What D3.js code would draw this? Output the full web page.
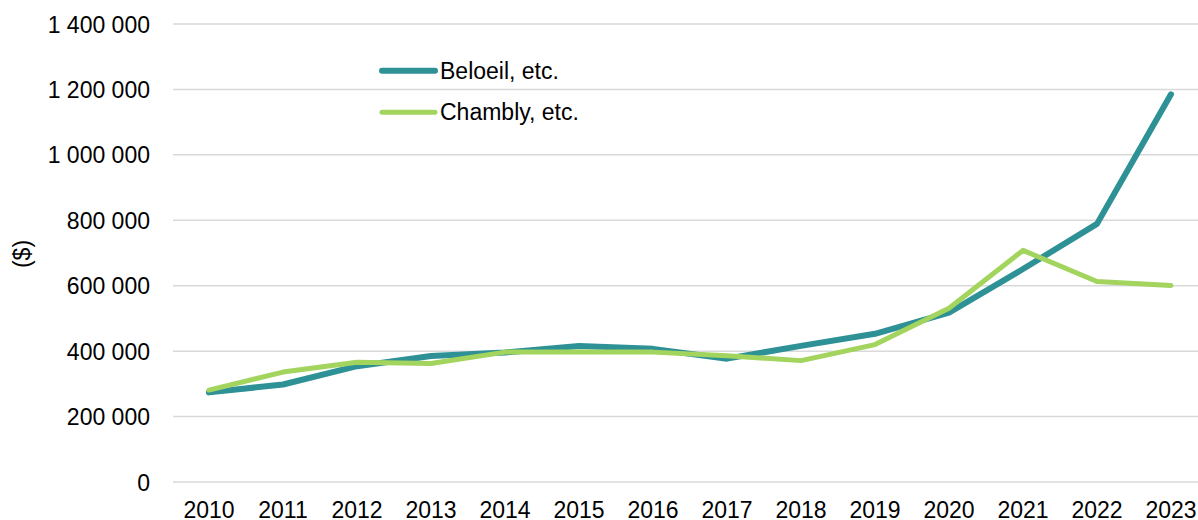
<!DOCTYPE html>
<html><head><meta charset="utf-8">
<script src="https://cdn.jsdelivr.net/npm/d3@7"></script>
<style>html,body{margin:0;padding:0;background:#fff;overflow:hidden}</style>
</head><body>
<svg id="c" width="1198" height="520"></svg>
<script>
const years = ["2010","2011","2012","2013","2014","2015","2016","2017","2018","2019","2020","2021","2022","2023"];
const beloeil = [274000, 298000, 354000, 385000, 396000, 416000, 407000, 377000, 416000, 453000, 518000, 651000, 789000, 1185000];
const chambly = [281000, 336000, 366000, 362000, 397000, 397000, 397000, 386000, 371000, 420000, 531000, 708000, 613000, 601000];
const yTicks = [0, 200000, 400000, 600000, 800000, 1000000, 1200000, 1400000];
const seriesNames = ["Beloeil, etc.", "Chambly, etc."];
const colors = ["#2E9196", "#A2D45E"];

const svg = d3.select("#c");
const font = "'Liberation Sans', Arial, sans-serif";
const x = d3.scaleBand().domain(years).range([172, 1208]);
const y = d3.scaleLinear().domain([0, 1400000]).range([482, 24]);
const fmt = v => d3.format(",")(v).replace(/,/g, " ");

// gridlines
svg.append("g").selectAll("line").data(yTicks).join("line")
  .attr("x1", 173).attr("x2", 1209)
  .attr("y1", d => y(d)).attr("y2", d => y(d))
  .attr("stroke", "#d9d9d9").attr("stroke-width", 1.5);

// y axis labels
const yAxis = d3.axisLeft(y).tickValues(yTicks).tickFormat(fmt).tickSize(0).tickPadding(0);
const gy = svg.append("g").attr("transform", "translate(150,0)").call(yAxis);
gy.select(".domain").remove();
gy.selectAll("text").attr("font-family", font).attr("font-size", 23).attr("fill", "#000").attr("dy", "0.35em");

// x axis labels
const xAxis = d3.axisBottom(x).tickSize(0).tickPadding(0);
const gx = svg.append("g").attr("transform", "translate(0,500)").call(xAxis);
gx.select(".domain").remove();
gx.selectAll("text").attr("font-family", font).attr("font-size", 23).attr("fill", "#000").attr("dy", "0.8em");

// y title
svg.append("text").attr("transform", "translate(30,254) rotate(-90)")
  .attr("text-anchor", "middle").attr("font-family", font).attr("font-size", 23).text("($)");

// lines
const line = d3.line().x((d, i) => x(years[i]) + x.bandwidth() / 2).y(d => y(d));
[[beloeil, 6], [chambly, 5]].forEach(([data, w], i) => {
  svg.append("path").datum(data).attr("d", line)
    .attr("fill", "none").attr("stroke", colors[i]).attr("stroke-width", w)
    .attr("stroke-linejoin", "round").attr("stroke-linecap", "round");
});

// legend
const leg = svg.append("g");
[[70.7, 6], [112.3, 5]].forEach(([ly, w], i) => {
  leg.append("line").attr("x1", 382).attr("x2", 435).attr("y1", ly).attr("y2", ly)
    .attr("stroke", colors[i]).attr("stroke-width", w).attr("stroke-linecap", "round");
  leg.append("text").attr("x", 440).attr("y", ly).attr("dy", "0.35em")
    .attr("font-family", font).attr("font-size", 23).attr("fill", "#000").text(seriesNames[i]);
});
</script>
</body></html>
